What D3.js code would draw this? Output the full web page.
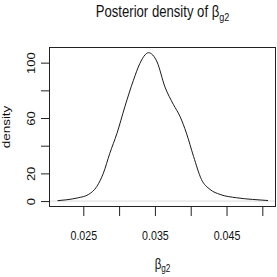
<!DOCTYPE html>
<html><head><meta charset="utf-8">
<script src="https://cdn.jsdelivr.net/npm/d3@7"></script>
<style>
html,body{margin:0;padding:0;background:#fff;}
svg{display:block;}
text{font-family:"Liberation Sans",Arial,Helvetica,sans-serif;fill:#111;}
</style></head>
<body>
<svg id="c" width="277" height="277"></svg>
<script>
// Data
const betaValues = [0.0214, 0.0226, 0.0243, 0.0257, 0.0269, 0.0278, 0.0287, 0.0297, 0.0308, 0.0320, 0.0329, 0.0336, 0.0341, 0.0347, 0.0353, 0.0364, 0.0376, 0.0385, 0.0394, 0.0404, 0.0415, 0.0427, 0.0441, 0.0464, 0.0486, 0.0508];
const densityValues = [0.3, 0.9, 2.4, 4.7, 10.6, 20.1, 34.5, 48.9, 68.1, 87.3, 99.4, 105.5, 107.2, 105.5, 100.5, 82.5, 69.6, 61.2, 49.1, 32.2, 15.6, 8.4, 4.8, 2.4, 1.2, 0.4];
const xTicks = [0.025, 0.030, 0.035, 0.040, 0.045, 0.050];
const xTickLabels = ["0.025", "", "0.035", "", "0.045", ""];
const yTicks = [0, 20, 40, 60, 80, 100];
const yTickLabels = ["0", "20", "", "60", "", "100"];
const titleMain = "Posterior density of β";
const titleSub = "g2";
const xTitleMain = "β";
const xTitleSub = "g2";
const yTitle = "density";

const svg = d3.select("#c");
const box = {left: 49, right: 276, top: 47, bottom: 207};
const sx = 0.82;

const x = d3.scaleLinear().domain([0.02021, 0.05191]).range([box.left, box.right]);
const y = d3.scaleLinear().domain([-4.28, 111.3]).range([box.bottom, box.top]);

// zero line
svg.append("line")
  .attr("x1", box.left).attr("x2", box.right)
  .attr("y1", y(0)).attr("y2", y(0))
  .attr("stroke", "#dcdcdc").attr("stroke-width", 1);

// curve
const pts = betaValues.map((b, i) => [b, densityValues[i]]);
svg.append("path")
  .datum(pts)
  .attr("fill", "none")
  .attr("stroke", "#1a1a1a")
  .attr("stroke-width", 1)
  .attr("d", d3.line().x(d => x(d[0])).y(d => y(d[1])).curve(d3.curveMonotoneX));

// box
svg.append("rect")
  .attr("x", box.left + 0.5).attr("y", box.top + 0.5)
  .attr("width", box.right - box.left - 1).attr("height", box.bottom - box.top - 1)
  .attr("fill", "none").attr("stroke", "#222").attr("stroke-width", 1);

// x axis
const gx = svg.append("g").attr("transform", `translate(0,${box.bottom})`)
  .call(d3.axisBottom(x).tickValues(xTicks).tickSize(9)
    .tickFormat((d, i) => xTickLabels[i]));
gx.select(".domain").remove();
gx.selectAll(".tick line").attr("stroke", "#222");
gx.selectAll(".tick text")
  .attr("y", null).attr("dy", null)
  .attr("transform", `translate(0,33) scale(${sx},1)`)
  .attr("font-size", 13)
  .attr("font-family", "Liberation Sans, Arial, sans-serif")
  .attr("fill", "#111");

// y axis
const gy = svg.append("g").attr("transform", `translate(${box.left},0)`)
  .call(d3.axisLeft(y).tickValues(yTicks).tickSize(8)
    .tickFormat((d, i) => yTickLabels[i]));
gy.select(".domain").remove();
gy.selectAll(".tick line").attr("stroke", "#222");
gy.selectAll(".tick text")
  .attr("x", null).attr("dy", null)
  .attr("text-anchor", "middle")
  .attr("transform", `translate(-14,0) scale(${sx},1) rotate(-90)`)
  .attr("font-size", 13)
  .attr("font-family", "Liberation Sans, Arial, sans-serif")
  .attr("fill", "#111");

// title
const cx = (box.left + box.right) / 2;
const t = svg.append("text")
  .attr("text-anchor", "middle")
  .attr("font-size", 16)
  .attr("transform", `translate(${cx},17) scale(${sx},1)`);
t.append("tspan").text(titleMain);
t.append("tspan").attr("font-size", 11).attr("dy", 4).text(titleSub);

// x title
const xt = svg.append("text")
  .attr("text-anchor", "middle")
  .attr("font-size", 14)
  .attr("transform", `translate(${cx},269) scale(${sx},1)`);
xt.append("tspan").text(xTitleMain);
xt.append("tspan").attr("font-size", 10).attr("dy", 3).text(xTitleSub);

// y title
svg.append("text")
  .attr("text-anchor", "middle")
  .attr("font-size", 13.5)
  .attr("transform", `translate(10,${(box.top + box.bottom) / 2}) scale(${sx},1) rotate(-90)`)
  .text(yTitle);
</script>
</body></html>
